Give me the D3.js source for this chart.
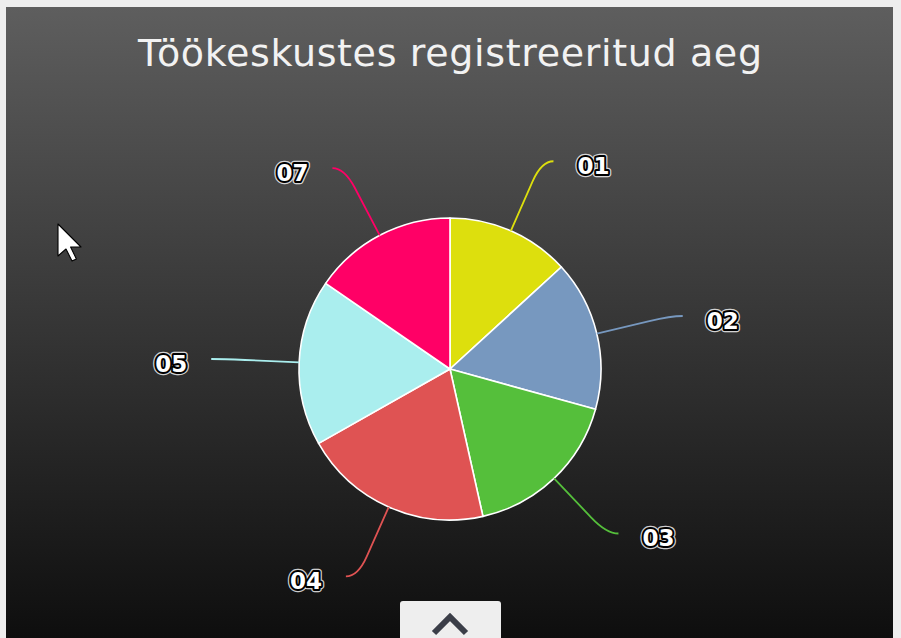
<!DOCTYPE html>
<meta charset="utf-8">
<style>
body { margin: 0; background: #eeeeee; }
svg { display: block; }
.title { font-family: "DejaVu Sans", sans-serif; font-size: 38px; fill: #f2f2f2; }
.lbl { font-family: "DejaVu Sans", sans-serif; font-weight: bold; font-size: 23px; }
</style>
<svg width="901" height="638"></svg>
<script src="https://cdn.jsdelivr.net/npm/d3@7"></script>
<script>
// data
var categories = ["01", "02", "03", "04", "05", "07"];
var values = [13.2, 16.1, 17.2, 20.3, 17.8, 15.4];
var colors = ["#DDDF0D", "#7798BF", "#55BF3B", "#DF5353", "#aaeeee", "#ff0066"];
var titleText = "Töökeskustes registreeritud aeg";

var svg = d3.select("svg"),
    W = +svg.attr("width"), H = +svg.attr("height");

// panel with gradient
var defs = svg.append("defs");
var grad = defs.append("linearGradient").attr("id", "bg")
    .attr("x1", 0).attr("y1", 0).attr("x2", 0).attr("y2", 1);
grad.append("stop").attr("offset", "0%").attr("stop-color", "rgb(94,94,94)");
grad.append("stop").attr("offset", "100%").attr("stop-color", "rgb(14,14,14)");

svg.append("rect").attr("width", W).attr("height", H).attr("fill", "#eeeeee");
svg.append("rect")
    .attr("x", 6).attr("y", 7).attr("width", 887).attr("height", H - 7)
    .attr("fill", "url(#bg)");

svg.append("text")
    .attr("class", "title")
    .attr("x", 450).attr("y", 66)
    .attr("text-anchor", "middle")
    .attr("textLength", 624)
    .text(titleText);

// pie
var cx = 450, cy = 369, r = 151;
var g = svg.append("g").attr("transform", "translate(" + cx + "," + cy + ")");

var z = d3.scaleOrdinal().domain(categories).range(colors);
var pie = d3.pie().sort(null).value(function(d) { return d.value; });
var arc = d3.arc().innerRadius(0).outerRadius(r);

var data = categories.map(function(c, i) { return {id: c, value: values[i]}; });
var arcs = pie(data);

g.selectAll(".slice")
    .data(arcs)
    .enter().append("path")
    .attr("class", "slice")
    .attr("d", arc)
    .attr("fill", function(d) { return z(d.data.id); })
    .attr("stroke", "#ffffff")
    .attr("stroke-width", 1.6)
    .attr("stroke-linejoin", "round");

// connectors + labels
function polar(a, rad) { return [Math.sin(a) * rad, -Math.cos(a) * rad]; }

var lab = g.selectAll(".lab")
    .data(arcs)
    .enter().append("g").attr("class", "lab");

lab.append("path")
    .attr("fill", "none")
    .attr("stroke", function(d) { return z(d.data.id); })
    .attr("stroke-width", 1.8)
    .attr("d", function(d) {
      var a = (d.startAngle + d.endAngle) / 2,
          side = Math.sin(a) >= 0 ? 1 : -1,
          p0 = polar(a, r), p1 = polar(a, 205), p2 = polar(a, 227),
          p3 = [p2[0] + 12 * side, p2[1]];
      var p = d3.path();
      p.moveTo(p0[0], p0[1]);
      p.lineTo(p1[0], p1[1]);
      p.quadraticCurveTo(p2[0], p2[1], p3[0], p3[1]);
      return p.toString();
    });

function labelPos(d) {
  var a = (d.startAngle + d.endAngle) / 2,
      side = Math.sin(a) >= 0 ? 1 : -1,
      p2 = polar(a, 227);
  return {x: p2[0] + 36 * side, y: p2[1] + 13, side: side};
}

// halo
lab.append("text")
    .attr("class", "lbl")
    .attr("x", function(d) { return labelPos(d).x; })
    .attr("y", function(d) { return labelPos(d).y; })
    .attr("text-anchor", function(d) { return labelPos(d).side > 0 ? "start" : "end"; })
    .attr("fill", "none")
    .attr("stroke", "rgba(255,255,255,0.8)")
    .attr("stroke-width", 6.5)
    .attr("stroke-linejoin", "round")
    .text(function(d) { return d.data.id; });

lab.append("text")
    .attr("class", "lbl")
    .attr("x", function(d) { return labelPos(d).x; })
    .attr("y", function(d) { return labelPos(d).y; })
    .attr("text-anchor", function(d) { return labelPos(d).side > 0 ? "start" : "end"; })
    .attr("fill", "#ffffff")
    .attr("stroke", "#000000")
    .attr("stroke-width", 4)
    .attr("stroke-linejoin", "round")
    .style("paint-order", "stroke")
    .text(function(d) { return d.data.id; });

// bottom button
var btn = svg.append("g");
btn.append("rect")
    .attr("x", 400).attr("y", 601).attr("width", 101).attr("height", 44)
    .attr("rx", 3).attr("fill", "#eeeeee");
btn.append("path")
    .attr("d", "M434,633L450,617L466,633")
    .attr("fill", "none").attr("stroke", "#3b3e48").attr("stroke-width", 6);

// mouse pointer
var cur = [[0,0],[0,16],[4,12.5],[7,18.5],[9.2,17.5],[6.3,11.5],[11.5,11.5]];
svg.append("path")
    .attr("transform", "translate(58,224) scale(2)")
    .attr("d", d3.line()(cur) + "Z")
    .attr("fill", "#ffffff").attr("stroke", "#000000").attr("stroke-width", 0.55)
    .attr("stroke-linejoin", "round");
</script>
